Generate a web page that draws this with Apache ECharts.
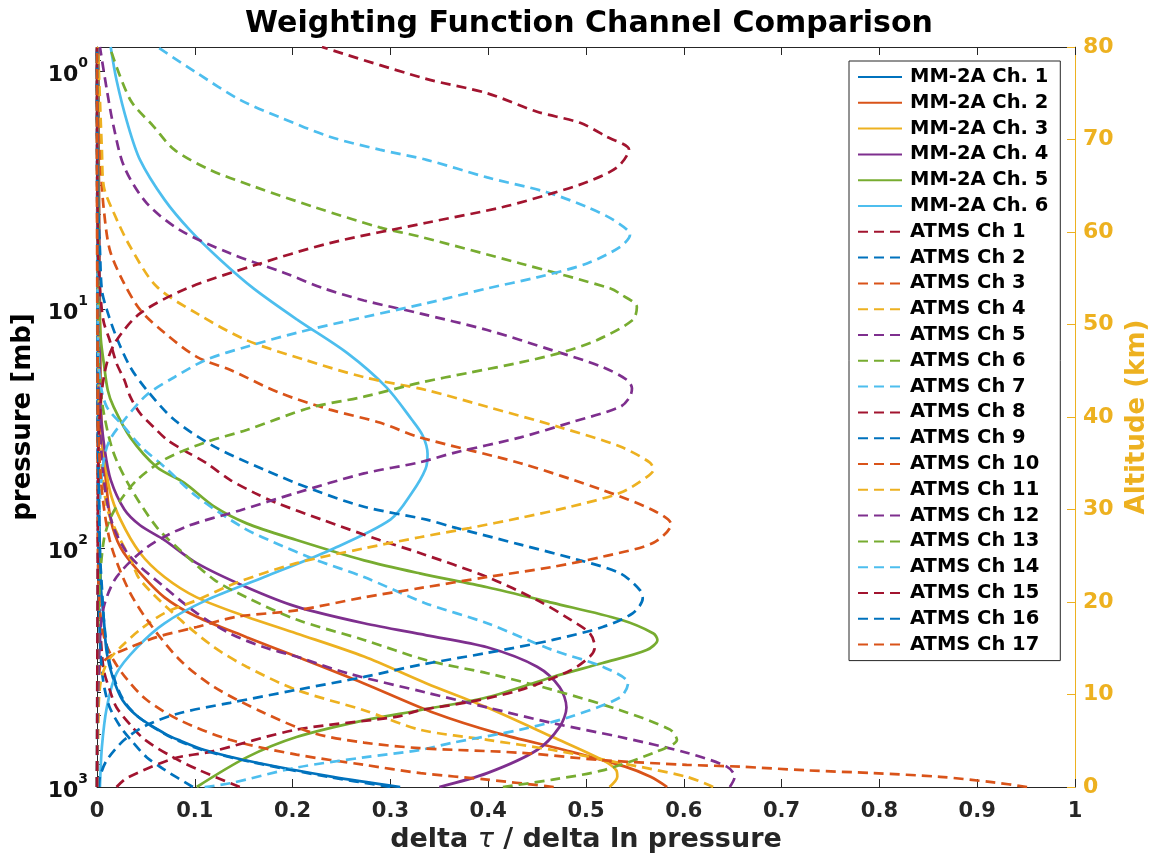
<!DOCTYPE html>
<html><head><meta charset="utf-8">
<script src="https://cdn.jsdelivr.net/npm/echarts@6/dist/echarts.min.js"></script>
<style>html,body{margin:0;padding:0;background:#fff}#c{width:1160px;height:857px}</style>
</head><body><div id="c"></div>
<script>
// Each curve: [delta tau / delta ln p, altitude km]
const mm2a_ch1 = [[0.310,0],[0.241,1.1],[0.160,2.7],[0.110,4.0],[0.083,5.1],[0.069,5.8],[0.042,7.6],[0.026,9.4],[0.016,11.9],[0.010,14.5],[0.007,18.1],[0.004,21.6],[0.003,25.3],[0.002,31.0],[0.001,41.8],[0.0003,80]];
const mm2a_ch2 = [[0.583,0],[0.566,1.1],[0.540,2.2],[0.478,4.0],[0.410,5.8],[0.345,8.0],[0.273,11.2],[0.204,14.1],[0.153,16.2],[0.102,18.4],[0.069,20.5],[0.041,23.5],[0.024,25.9],[0.014,28.9],[0.009,33.2],[0.006,36.4],[0.003,41.8],[0.001,80]];
const mm2a_ch3 = [[0.524,0],[0.532,1.1],[0.531,1.8],[0.517,2.9],[0.466,5.4],[0.399,8.6],[0.337,11.2],[0.273,14.1],[0.204,16.6],[0.153,18.4],[0.102,20.5],[0.069,22.7],[0.044,25.3],[0.024,28.9],[0.013,32.1],[0.007,36.4],[0.004,41.8],[0.001,80]];
const mm2a_ch4 = [[0.350,0],[0.399,1.5],[0.450,4.0],[0.473,6.5],[0.480,8.6],[0.473,10.8],[0.450,13.0],[0.399,15.1],[0.337,16.4],[0.273,17.7],[0.204,19.5],[0.153,21.6],[0.102,24.2],[0.069,26.7],[0.044,28.3],[0.028,30.0],[0.014,33.2],[0.008,36.4],[0.004,40.4],[0.003,47.2],[0.001,80]];
const mm2a_ch5 = [[0.102,0],[0.153,3.2],[0.204,5.4],[0.273,7.2],[0.330,8.3],[0.399,9.7],[0.466,11.9],[0.517,13.4],[0.562,14.8],[0.573,15.9],[0.569,16.6],[0.535,18.1],[0.466,19.9],[0.399,21.6],[0.330,23.1],[0.273,24.5],[0.204,26.7],[0.153,28.5],[0.120,30.3],[0.089,32.9],[0.061,34.6],[0.034,37.8],[0.017,41.1],[0.011,42.9],[0.007,45.8],[0.004,48.3],[0.002,52.6],[0.001,80]];
const mm2a_ch6 = [[0.003,0],[0.005,4.3],[0.010,8.6],[0.020,12.3],[0.041,15.1],[0.069,17.7],[0.112,20.2],[0.171,22.7],[0.238,25.6],[0.300,28.9],[0.322,31.8],[0.336,34.4],[0.338,36.0],[0.333,38.0],[0.322,39.7],[0.296,43.2],[0.256,46.9],[0.205,50.5],[0.160,53.9],[0.126,57.0],[0.095,60.2],[0.069,63.5],[0.044,67.8],[0.031,71.8],[0.020,76.4],[0.014,80]];
const atms_ch1 = [[0.146,0],[0.105,1.8],[0.078,3.2],[0.049,5.1],[0.036,6.5],[0.020,8.6],[0.013,10.5],[0.007,12.6],[0.004,15.9],[0.002,20.2],[0.001,31.0],[0,80]];
const atms_ch2 = [[0.098,0],[0.070,1.8],[0.051,3.2],[0.037,4.8],[0.024,6.5],[0.013,8.6],[0.008,10.5],[0.005,12.6],[0.003,15.9],[0.002,20.2],[0.001,31.0],[0,80]];
const atms_ch3 = [[0.467,0],[0.399,0.8],[0.331,1.5],[0.273,2.4],[0.204,3.5],[0.136,5.1],[0.085,7.2],[0.051,9.4],[0.031,11.6],[0.017,13.7],[0.008,15.9],[0.003,19.1],[0.001,24.5],[0,80]];
const atms_ch4 = [[0.630,0],[0.603,1.1],[0.535,2.6],[0.466,4.0],[0.399,5.1],[0.330,6.2],[0.273,8.3],[0.204,10.5],[0.153,13.0],[0.120,15.1],[0.085,18.1],[0.044,22.4],[0.035,24.5],[0.024,26.7],[0.011,29.9],[0.005,34.3],[0.002,39.7],[0,80]];
const atms_ch5 = [[0.647,0],[0.652,1.1],[0.644,2.2],[0.603,3.7],[0.535,5.4],[0.466,6.9],[0.399,8.6],[0.337,10.2],[0.256,12.3],[0.204,14.1],[0.171,15.1],[0.136,16.6],[0.102,18.8],[0.069,21.6],[0.034,24.9],[0.018,27.8],[0.010,31.0],[0.005,35.4],[0.002,41.8],[0,80]];
const atms_ch6 = [[0.415,0],[0.466,0.8],[0.517,1.8],[0.569,3.7],[0.593,5.1],[0.586,6.2],[0.535,8.3],[0.466,10.5],[0.399,12.3],[0.337,13.7],[0.273,15.9],[0.204,18.1],[0.153,20.5],[0.120,22.4],[0.085,25.6],[0.061,28.1],[0.034,32.4],[0.017,36.1],[0.007,40.4],[0.003,44.0],[0.001,49.4],[0,80]];
const atms_ch7 = [[0.110,0],[0.136,0.4],[0.204,2.1],[0.273,3.2],[0.330,4.0],[0.364,4.8],[0.433,6.2],[0.484,7.6],[0.535,9.7],[0.543,11.2],[0.517,13.0],[0.466,14.8],[0.399,17.7],[0.335,19.9],[0.273,22.7],[0.225,24.5],[0.180,26.5],[0.150,28.0],[0.102,31.4],[0.069,34.6],[0.045,36.8],[0.028,38.9],[0.010,41.1],[0.003,44.0],[0.001,48.3],[0,80]];
const atms_ch8 = [[0.020,0],[0.031,1.0],[0.079,3.1],[0.116,3.8],[0.204,6.2],[0.307,7.6],[0.330,8.3],[0.381,9.2],[0.433,10.5],[0.484,12.6],[0.504,14.1],[0.509,15.1],[0.504,16.6],[0.484,18.1],[0.450,20.2],[0.399,22.7],[0.330,25.3],[0.289,26.7],[0.230,28.9],[0.184,30.7],[0.161,31.8],[0.136,33.2],[0.112,35.0],[0.089,36.4],[0.072,37.5],[0.058,38.9],[0.044,40.4],[0.034,42.2],[0.028,44.0],[0.020,45.8],[0.013,48.3],[0.007,50.2],[0.004,52.6],[0.001,58.1],[0,80]];
const atms_ch9 = [[0.002,0],[0.003,1.1],[0.010,2.9],[0.028,5.1],[0.051,6.7],[0.085,8.0],[0.136,9.1],[0.204,10.5],[0.273,11.9],[0.330,13.2],[0.399,14.5],[0.466,15.9],[0.517,17.3],[0.548,18.8],[0.558,20.4],[0.555,21.3],[0.535,23.1],[0.494,24.5],[0.433,26.2],[0.364,28.1],[0.337,28.9],[0.273,30.3],[0.222,32.1],[0.171,34.3],[0.120,36.8],[0.079,39.7],[0.051,42.9],[0.034,45.4],[0.020,48.6],[0.010,51.6],[0.005,53.7],[0.003,58.1],[0.001,63.5],[0,80]];
const atms_ch10 = [[0,0],[0.001,7.2],[0.003,13.0],[0.013,14.1],[0.034,15.1],[0.061,16.2],[0.102,17.3],[0.143,18.4],[0.204,19.1],[0.273,20.5],[0.330,21.5],[0.399,22.7],[0.466,23.8],[0.517,24.9],[0.569,26.4],[0.587,28.4],[0.569,29.9],[0.517,32.1],[0.433,35.0],[0.330,37.8],[0.289,39.4],[0.238,40.8],[0.187,42.6],[0.136,45.1],[0.102,46.5],[0.069,49.1],[0.044,51.6],[0.026,54.8],[0.013,58.1],[0.007,62.4],[0.004,66.7],[0.002,72.1],[0.001,80]];
const atms_ch11 = [[0,0],[0.001,5.1],[0.003,10.8],[0.010,13.4],[0.024,15.1],[0.044,17.0],[0.069,18.8],[0.102,20.2],[0.143,22.1],[0.204,24.2],[0.273,25.8],[0.330,27.0],[0.381,28.0],[0.433,29.1],[0.484,30.3],[0.535,31.8],[0.562,33.5],[0.569,34.3],[0.565,35.1],[0.535,36.8],[0.473,38.9],[0.399,41.1],[0.337,42.9],[0.273,44.3],[0.212,46.2],[0.153,48.3],[0.102,51.2],[0.061,54.1],[0.034,58.4],[0.017,62.1],[0.007,64.9],[0.005,68.9],[0.003,74.3],[0.001,80]];
const atms_ch12 = [[0,0],[0.001,9.4],[0.003,15.9],[0.007,19.5],[0.020,22.7],[0.051,25.9],[0.090,28.1],[0.146,29.9],[0.204,31.8],[0.273,33.9],[0.330,35.1],[0.364,36.1],[0.433,37.8],[0.484,39.4],[0.535,41.1],[0.545,42.2],[0.547,43.1],[0.542,44.0],[0.517,45.4],[0.466,47.2],[0.399,49.4],[0.330,51.2],[0.273,52.6],[0.232,53.9],[0.191,55.6],[0.136,57.7],[0.085,60.2],[0.051,63.1],[0.028,67.0],[0.017,71.4],[0.010,75.4],[0.003,80]];
const atms_ch13 = [[0,0],[0.001,15.9],[0.003,22.4],[0.007,26.7],[0.013,28.9],[0.024,31.0],[0.041,33.2],[0.069,35.4],[0.109,37.2],[0.153,38.6],[0.218,41.0],[0.273,42.2],[0.330,43.7],[0.381,44.8],[0.433,45.9],[0.476,47.0],[0.511,48.3],[0.548,50.5],[0.552,51.9],[0.535,53.3],[0.525,53.9],[0.433,56.6],[0.330,59.5],[0.289,60.5],[0.222,62.7],[0.161,64.9],[0.116,66.7],[0.079,68.9],[0.058,71.4],[0.034,74.3],[0.013,80]];
const atms_ch14 = [[0,0],[0.001,24.5],[0.003,31.0],[0.007,35.4],[0.013,37.5],[0.028,39.7],[0.051,42.4],[0.079,44.3],[0.112,46.2],[0.153,47.6],[0.204,49.1],[0.273,50.8],[0.337,52.3],[0.399,53.9],[0.450,55.1],[0.501,56.6],[0.535,58.4],[0.545,59.7],[0.528,61.3],[0.501,62.7],[0.460,64.3],[0.399,65.9],[0.337,67.8],[0.289,68.9],[0.238,70.3],[0.187,72.4],[0.146,74.3],[0.102,77.2],[0.069,79.5],[0.062,80]];
const atms_ch15 = [[0,0],[0.001,31.0],[0.002,38.6],[0.005,42.9],[0.011,46.2],[0.020,48.3],[0.044,51.2],[0.092,53.9],[0.161,56.4],[0.238,58.8],[0.337,61.0],[0.415,62.7],[0.466,64.2],[0.501,65.4],[0.532,67.0],[0.544,68.9],[0.521,70.3],[0.494,71.8],[0.450,73.0],[0.399,75.0],[0.335,76.6],[0.230,80]];
const atms_ch16 = [[0.300,0],[0.236,1.1],[0.158,2.7],[0.108,4.0],[0.081,5.1],[0.068,5.8],[0.042,7.6],[0.027,9.4],[0.017,11.9],[0.011,14.5],[0.007,18.1],[0.005,21.6],[0.003,25.3],[0.002,31.0],[0.001,41.8],[0,80]];
const atms_ch17 = [[0.951,0],[0.917,0.5],[0.862,1.1],[0.793,1.5],[0.726,1.8],[0.657,2.2],[0.603,2.4],[0.517,2.9],[0.433,3.7],[0.330,4.2],[0.273,4.8],[0.222,5.8],[0.171,8.0],[0.120,10.8],[0.085,13.7],[0.051,18.1],[0.031,21.6],[0.013,26.7],[0.004,33.2],[0.001,41.8],[0,80]];

const seriesNames = ['MM-2A Ch. 1','MM-2A Ch. 2','MM-2A Ch. 3','MM-2A Ch. 4','MM-2A Ch. 5','MM-2A Ch. 6',
  'ATMS Ch 1','ATMS Ch 2','ATMS Ch 3','ATMS Ch 4','ATMS Ch 5','ATMS Ch 6','ATMS Ch 7','ATMS Ch 8','ATMS Ch 9',
  'ATMS Ch 10','ATMS Ch 11','ATMS Ch 12','ATMS Ch 13','ATMS Ch 14','ATMS Ch 15','ATMS Ch 16','ATMS Ch 17'];
const seriesData = [mm2a_ch1,mm2a_ch2,mm2a_ch3,mm2a_ch4,mm2a_ch5,mm2a_ch6,
  atms_ch1,atms_ch2,atms_ch3,atms_ch4,atms_ch5,atms_ch6,atms_ch7,atms_ch8,atms_ch9,
  atms_ch10,atms_ch11,atms_ch12,atms_ch13,atms_ch14,atms_ch15,atms_ch16,atms_ch17];
const xTickLabels = ['0','0.1','0.2','0.3','0.4','0.5','0.6','0.7','0.8','0.9','1'];
const altitudeTicks = [0,10,20,30,40,50,60,70,80];

const palette = ['#0072BD','#D95319','#EDB120','#7E2F8E','#77AC30','#4DBEEE','#A2142F'];
const FONT = 'DejaVu Sans';
const AX = '#262626';
const ORANGE = '#EDB120';

// log-pressure axis expressed as -log10(p); minor ticks at 2..9 x decade
const minorVals = [];
[0.1,1,10,100].forEach(d => { for (let k = 2; k <= 9; k++) { const p = k*d; if (p > 0.794 && p < 1000) minorVals.push(-Math.log10(p)); } });

const chart = echarts.init(document.getElementById('c'));
chart.setOption({
  animation: false,
  backgroundColor: '#fff',
  title: { text: 'Weighting Function Channel Comparison', left: 584, top: 4, textAlign: 'center',
    textStyle: { fontFamily: FONT, fontWeight: 'bold', fontSize: 30, color: '#000' } },
  grid: { left: 97, right: 85, top: 47, bottom: 70, containLabel: false, outerBoundsMode: 'none' },
  legend: {
    orient: 'vertical', left: 849, top: 61, padding: [6, 12, 6, 8],
    itemWidth: 44, itemHeight: 12, itemGap: 5.8,
    itemStyle: { opacity: 0 },
    backgroundColor: '#fff', borderColor: AX, borderWidth: 1,
    textStyle: { fontFamily: FONT, fontWeight: 'bold', fontSize: 19.5, lineHeight: 20, color: '#000', padding: [0,0,0,3] },
    data: seriesNames
  },
  xAxis: [
    { type: 'value', min: 0, max: 1, interval: 0.1, position: 'bottom',
      axisLine: { onZero: false, lineStyle: { color: AX, width: 1 } },
      axisTick: { inside: true, length: 8, lineStyle: { color: AX } },
      axisLabel: { margin: 14, fontFamily: FONT, fontWeight: 'bold', fontSize: 21, color: AX,
        formatter: v => xTickLabels[Math.round(v * 10)] },
      splitLine: { show: false },
      name: 'delta {t|τ} / delta ln pressure', nameLocation: 'middle', nameGap: 39,
      nameTextStyle: { fontFamily: FONT, fontWeight: 'bold', fontSize: 27, color: AX,
        rich: { t: { fontFamily: FONT, fontStyle: 'italic', fontWeight: 'normal', fontSize: 27, color: AX } } } },
    { type: 'value', min: 0, max: 1, interval: 0.1, position: 'top',
      axisLine: { onZero: false, lineStyle: { color: AX, width: 1 } },
      axisTick: { inside: true, length: 8, lineStyle: { color: AX } },
      axisLabel: { show: false }, splitLine: { show: false } }
  ],
  yAxis: [
    { type: 'value', min: -3, max: 0.1, interval: 1, position: 'left',
      axisLine: { show: true, onZero: false, lineStyle: { color: AX, width: 1 } },
      axisTick: { inside: true, length: 8, lineStyle: { color: AX } },
      axisLabel: { margin: 9, showMaxLabel: false,
        formatter: v => '{b|10}{s|' + Math.round(-v) + '}',
        rich: { b: { fontFamily: FONT, fontWeight: 'bold', fontSize: 22, color: '#111', verticalAlign: 'bottom', lineHeight: 30 },
                s: { fontFamily: FONT, fontWeight: 'bold', fontSize: 14, color: '#111', verticalAlign: 'top', lineHeight: 30 } } },
      splitLine: { show: false },
      name: 'pressure [mb]', nameLocation: 'middle', nameGap: 50, nameRotate: 90,
      nameTextStyle: { fontFamily: FONT, fontWeight: 'bold', fontSize: 26, color: '#000' } },
    { type: 'value', min: 0, max: 80, interval: 10, position: 'right',
      axisLine: { show: true, onZero: false, lineStyle: { color: ORANGE, width: 1 } },
      axisTick: { inside: true, length: 8, lineStyle: { color: ORANGE } },
      axisLabel: { margin: 8, fontFamily: FONT, fontWeight: 'bold', fontSize: 22, color: ORANGE,
        customValues: altitudeTicks },
      splitLine: { show: false },
      name: 'Altitude (km)', nameLocation: 'middle', nameGap: 45, nameRotate: 90,
      nameTextStyle: { fontFamily: FONT, fontWeight: 'bold', fontSize: 26, color: ORANGE } },
    { type: 'value', min: -3, max: 0.1, position: 'left', offset: 0,
      axisLine: { show: false, onZero: false },
      axisTick: { show: true, inside: true, length: 4, customValues: minorVals, lineStyle: { color: AX } },
      axisLabel: { show: false }, splitLine: { show: false } }
  ],
  series: seriesNames.map((n, i) => ({
    name: n, type: 'line', xAxisIndex: 0, yAxisIndex: 1, data: seriesData[i],
    symbol: 'none', smooth: 0.3, clip: true,
    lineStyle: { color: palette[i % 7], width: 2.7, type: i < 6 ? 'solid' : [10, 6] },
    itemStyle: { color: palette[i % 7] }
  }))
});
</script></body></html>
